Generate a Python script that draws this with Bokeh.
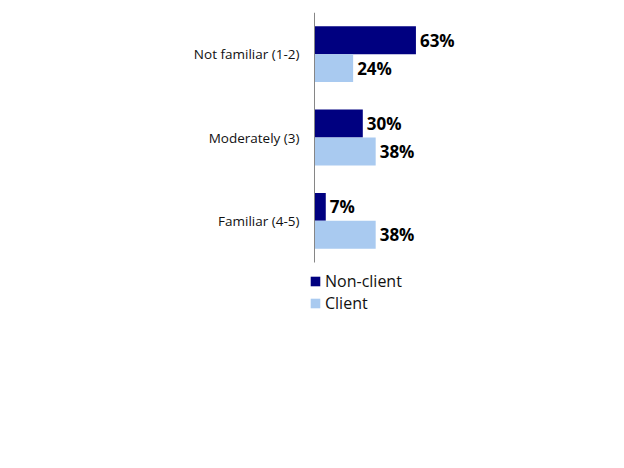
from bokeh.plotting import figure
from bokeh.models import ColumnDataSource, Legend, LegendItem, Range1d, FixedTicker
from bokeh.core.properties import value
from bokeh.embed import file_html
from bokeh.resources import INLINE

categories = ["Not familiar (1-2)", "Moderately (3)", "Familiar (4-5)"]
non_client = [63, 30, 7]
client = [24, 38, 38]
series_names = ["Non-client", "Client"]
colors = ["#000080", "#A9CAF0"]

n = len(categories)
centers = [n - i - 0.5 for i in range(n)]
bh = 0.335

src_nc = ColumnDataSource(dict(y=[c + bh / 2 for c in centers], v=non_client,
                               lab=[f"{v}%" for v in non_client]))
src_c = ColumnDataSource(dict(y=[c - bh / 2 for c in centers], v=client,
                              lab=[f"{v}%" for v in client]))

px_per_pct = 1.61
x0 = -5 / px_per_pct
p = figure(frame_width=299, frame_height=310, output_backend="svg", toolbar_location=None,
           x_range=Range1d(x0, x0 + 299 / px_per_pct), y_range=Range1d(-0.72, n),
           min_border_left=309, min_border_right=0, min_border_top=12,
           min_border_bottom=10)
p.outline_line_color = None
p.grid.visible = False
p.xaxis.visible = False

r1 = p.hbar(y="y", right="v", left=0, height=bh, source=src_nc,
            fill_color=colors[0], line_color=None)
r2 = p.hbar(y="y", right="v", left=0, height=bh, source=src_c,
            fill_color=colors[1], line_color=None)

# category axis line
p.segment(x0=[0], y0=[0], x1=[0], y1=[n], line_color="#868686", line_width=1)

for s in (src_nc, src_c):
    p.text(x="v", y="y", text="lab", source=s, x_offset=4,
           text_baseline="middle", text_align="left",
           text_font=value("Open Sans"), text_font_style="bold",
           text_font_size="17px", text_color="#000000")

ax = p.yaxis[0]
ax.ticker = FixedTicker(ticks=centers)
ax.major_label_overrides = {c: lab for c, lab in zip(centers, categories)}
ax.major_tick_line_color = None
ax.minor_tick_line_color = None
ax.major_label_standoff = 4
ax.axis_line_color = None
ax.major_label_text_font = "Open Sans"
ax.major_label_text_font_size = "13.5px"
ax.major_label_text_color = "#111111"

legend = Legend(items=[LegendItem(label=series_names[0], renderers=[r1]),
                       LegendItem(label=series_names[1], renderers=[r2])],
                location=(0, 8), orientation="vertical",
                border_line_color=None, background_fill_alpha=0,
                glyph_width=12, glyph_height=12, label_height=16,
                spacing=-1, padding=0, margin=0, label_standoff=4,
                label_text_font="Open Sans", label_text_font_size="16px",
                label_text_color="#111111")
p.add_layout(legend, "center")

open("out.html", "w").write(file_html(p, INLINE))
